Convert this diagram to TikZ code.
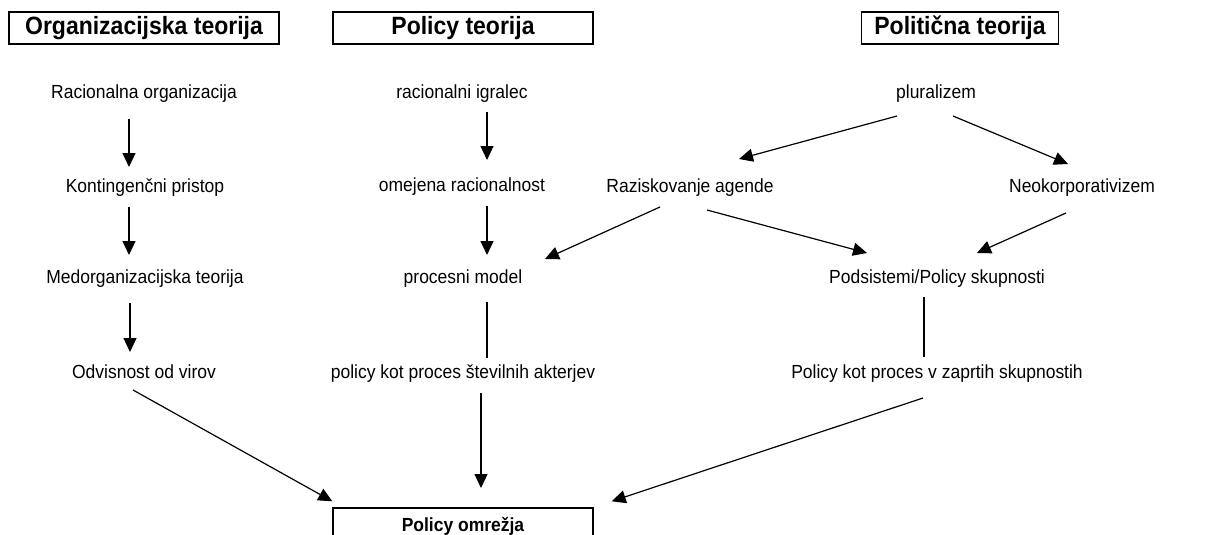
\documentclass[tikz,border=0pt]{standalone}
\usepackage{fontspec}
\setmainfont{Liberation Sans}[FakeStretch=0.92]
\usepackage{tikz}
\usetikzlibrary{arrows.meta,positioning,calc}

\begin{document}
\begin{tikzpicture}[
  x=1pt, y=-1pt,
  >={Triangle[length=14pt,width=13pt]},
  lbl/.style={inner sep=0pt, text depth=0pt, font=\fontsize{19}{22}\selectfont},
  head/.style={draw, line width=1.4pt, inner sep=0pt, minimum height=32pt,
    font=\fontsize{25}{28}\selectfont\bfseries},
  arr/.style={->, line width=1.2pt},
  plain/.style={line width=1.2pt},
]
  \useasboundingbox (0,0) rectangle (1205,535);
  \clip (0,0) rectangle (1205,535);

  % Column headers
  \node[head, minimum width=270pt] (org)   at (144,28) {Organizacijska teorija};
  \node[head, minimum width=260pt] (pol)   at (463,28) {Policy teorija};
  \node[head, minimum width=197pt] (polit) at (960,28) {Politična teorija};

  % Organizational theory
  \node[lbl] (rac)    at (144,92)  {Racionalna organizacija};
  \node[lbl] (kont)   at (145,186) {Kontingenčni pristop};
  \node[lbl] (medorg) at (145,277) {Medorganizacijska teorija};
  \node[lbl] (odv)    at (144,372) {Odvisnost od virov};

  % Policy theory
  \node[lbl] (igr)  at (462,92)  {racionalni igralec};
  \node[lbl] (omej) at (462,185) {omejena racionalnost};
  \node[lbl] (proc) at (463,277) {procesni model};
  \node[lbl] (stev) at (463,372) {policy kot proces številnih akterjev};

  % Political theory
  \node[lbl] (plur)   at (936,92)  {pluralizem};
  \node[lbl] (razisk) at (690,186) {Raziskovanje agende};
  \node[lbl] (neok)   at (1082,186) {Neokorporativizem};
  \node[lbl] (podsis) at (937,277) {Podsistemi/Policy skupnosti};
  \node[lbl] (zapr)   at (937,372) {Policy kot proces v zaprtih skupnostih};

  % Result
  \node[head, minimum width=260pt, minimum height=36pt,
    font=\fontsize{19}{22}\selectfont\bfseries] (omr) at (463,526) {Policy omrežja};

  % Left column arrows
  \draw[arr] ($(rac)+(-15,27)$)    -- ($(kont)+(-16,-19)$);
  \draw[arr] ($(kont)+(-16,21)$)   -- ($(medorg)+(-16,-22)$);
  \draw[arr] ($(medorg)+(-15,26)$) -- ($(odv)+(-14,-20)$);

  % Middle column arrows
  \draw[arr] ($(igr)+(25,20)$)   -- ($(omej)+(25,-25)$);
  \draw[arr] ($(omej)+(25,21)$)  -- ($(proc)+(24,-22)$);
  \draw[plain] ($(proc)+(24,25)$) -- ($(stev)+(24,-14)$);
  \draw[arr] ($(stev)+(18,21)$)  -- ($(omr)+(18,-38)$);

  % Right side arrows
  \draw[arr] ($(plur)+(-39,24)$)   -- ($(razisk)+(49,-27)$);
  \draw[arr] ($(plur)+(17,24)$)    -- ($(neok)+(-14,-22)$);
  \draw[arr] ($(razisk)+(-30,21)$) -- ($(proc)+(82,-18)$);
  \draw[arr] ($(razisk)+(17,24)$)  -- ($(podsis)+(-70,-24)$);
  \draw[arr] ($(neok)+(-16,27)$)   -- ($(podsis)+(40,-24)$);
  \draw[plain] ($(podsis)+(-13,20)$) -- ($(zapr)+(-13,-15)$);

  % Into policy networks
  \draw[arr] ($(odv)+(-11,18)$)  -- ($(omr.north west)+(0,-6)$);
  \draw[arr] ($(zapr)+(-14,26)$) -- ($(omr.north east)+(18,-6)$);
\end{tikzpicture}
\end{document}
